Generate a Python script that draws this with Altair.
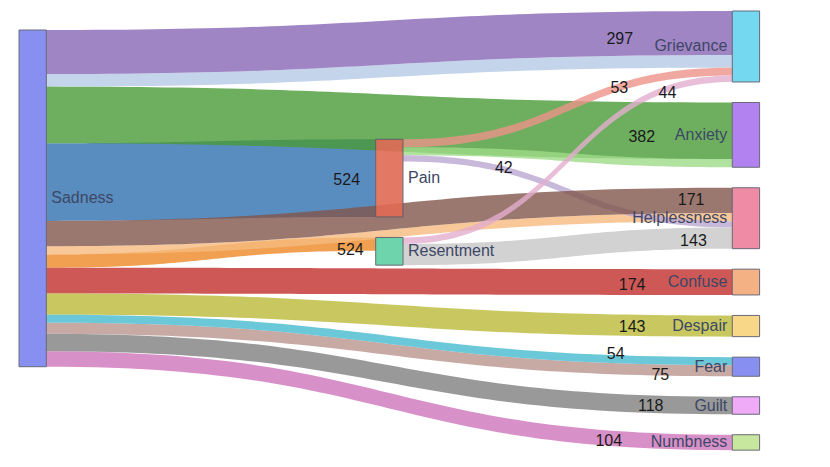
import altair as alt
import pandas as pd
import numpy as np

# ---------------- data ----------------
node_names = ["Sadness", "Pain", "Resentment", "Grievance", "Anxiety", "Helplessness",
              "Confuse", "Despair", "Fear", "Guilt", "Numbness"]
node_column = [0, 1, 1, 2, 2, 2, 2, 2, 2, 2, 2]
node_colors = ["#7b84f0", "#e06a55", "#5ed0a2", "#66d5ef", "#aa76ef", "#ee7f9b",
               "#f3aa77", "#f8d47c", "#7b84f0", "#eea3f7", "#c2e595"]

link_source = ["Sadness", "Sadness", "Sadness", "Sadness", "Sadness", "Sadness", "Sadness",
               "Sadness", "Sadness", "Sadness", "Sadness", "Sadness", "Sadness",
               "Pain", "Pain", "Pain", "Resentment", "Resentment"]
link_target = ["Grievance", "Grievance", "Anxiety", "Pain", "Helplessness", "Helplessness",
               "Resentment", "Confuse", "Despair", "Fear", "Fear", "Guilt", "Numbness",
               "Grievance", "Anxiety", "Helplessness", "Grievance", "Helplessness"]
link_value = [297, 85, 382, 524, 171, 55, 90, 174, 143, 54, 75, 118, 104, 53, 55, 42, 44, 143]
link_label = ["297", "", "382", "524", "171", "", "524", "174", "143", "54", "75", "118", "104",
              "53", "", "42", "44", "143"]
link_colors = ["#8866b5", "#b5c9e5", "#489b37", "#3170af", "#81564c", "#f6ba7e", "#ec8824",
               "#c02e2a", "#bbba38", "#45bace", "#ba958e", "#7f7f7f", "#ce74ba",
               "#ec9288", "#9fdb88", "#baa6d1", "#e2aece", "#c7c7c7"]

# ---------------- layout constants ----------------
W, H = 810, 450
PAGE = 8
COL_X = [19.0, 375.7, 732.3]
NODE_W = 27.3
COL_TOP = [30.0, 139.3, 11.0]
PAD = 20.5
KY = 0.1482
DRAW_ORDER = [3, 1, 6, 5, 2, 14, 7, 13, 0, 15, 4, 10, 12, 16, 11, 17, 8, 9]
LABEL_FRAC = [0.836, 0, 0.868, 0.912, 0.940, 0, 0.923, 0.854, 0.854, 0.830, 0.895, 0.881,
              0.820, 0.657, 0, 0.306, 0.803, 0.882]
LABEL_DY = [5, 0, 7, 1.5, -1, 0, 5.5, 3, 2, -5, 5.4, 1.7, 2.6, 1.3, 0, -1, 4.2, 2.7]

# ---------------- sankey layout ----------------
n_in = {n: 0 for n in node_names}
n_out = {n: 0 for n in node_names}
for s, t, v in zip(link_source, link_target, link_value):
    n_out[s] += v
    n_in[t] += v
node = {}
col_cursor = list(COL_TOP)
for name, col, colr in zip(node_names, node_column, node_colors):
    val = max(n_in[name], n_out[name])
    y0 = col_cursor[col]
    y1 = y0 + val * KY
    col_cursor[col] = y1 + PAD
    node[name] = dict(x0=COL_X[col], x1=COL_X[col] + NODE_W, y0=y0, y1=y1, col=col, color=colr)

idx = list(range(len(link_value)))
sy = {}
ty = {}
for name in node_names:
    outs = sorted([i for i in idx if link_source[i] == name], key=lambda i: (node[link_target[i]]["y0"], i))
    c = node[name]["y0"]
    for i in outs:
        sy[i] = c
        c += link_value[i] * KY
    ins = sorted([i for i in idx if link_target[i] == name], key=lambda i: (node[link_source[i]]["y0"], i))
    c = node[name]["y0"]
    for i in ins:
        ty[i] = c
        c += link_value[i] * KY

ts = np.linspace(0, 1, 61)
a = (1 - ts) ** 3 + 3 * (1 - ts) ** 2 * ts          # weight of source y
b = 3 * (1 - ts) * ts ** 2 + ts ** 3                # weight of target y
bx = 1.5 * ts * (1 - ts) + ts ** 3                  # x fraction (control points at mid x)
rows = []
lab_rows = []
for i in idx:
    xs = node[link_source[i]]["x1"]
    xt = node[link_target[i]]["x0"]
    w = link_value[i] * KY
    xx = xs + (xt - xs) * bx
    ytop = sy[i] * a + ty[i] * b
    for k in range(len(ts)):
        rows.append(dict(lid=f"L{i:02d}", k=k, x=float(xx[k]), y=float(ytop[k]),
                         y2=float(ytop[k] + w), color=link_colors[i]))
    if link_label[i]:
        f = LABEL_FRAC[i]
        lx = xs + (xt - xs) * f
        yc = ytop + w / 2
        ly = float(np.interp(lx, xx, yc)) + LABEL_DY[i]
        lab_rows.append(dict(x=float(lx), y=ly, text=link_label[i]))

links_df = pd.DataFrame(rows)
labels_df = pd.DataFrame(lab_rows)
nodes_df = pd.DataFrame([dict(name=n, **node[n]) for n in node_names])
nodes_df["ym"] = (nodes_df["y0"] + nodes_df["y1"]) / 2
nl_left = nodes_df[nodes_df["col"] < 2].copy()
nl_left["tx"] = nl_left["x1"] + 5
nl_right = nodes_df[nodes_df["col"] == 2].copy()
nl_right["tx"] = nl_right["x0"] - 5

xs_ = alt.Scale(domain=[PAGE, PAGE + W], nice=False, zero=False)
ys_ = alt.Scale(domain=[PAGE, PAGE + H], nice=False, zero=False, reverse=True)

link_layers = []
for i in DRAW_ORDER:
    d = links_df[links_df["lid"] == f"L{i:02d}"]
    link_layers.append(
        alt.Chart(d).mark_area(opacity=0.8, interpolate="linear", color=link_colors[i],
                               orient="vertical").encode(
            x=alt.X("x:Q", scale=xs_, axis=None),
            y=alt.Y("y:Q", scale=ys_, axis=None, stack=None),
            y2=alt.Y2("y2:Q"),
        )
    )

node_layer = alt.Chart(nodes_df).mark_rect(opacity=0.9, stroke="#5a5a6a", strokeWidth=1).encode(
    x=alt.X("x0:Q", scale=xs_, axis=None),
    x2="x1:Q",
    y=alt.Y("y0:Q", scale=ys_, axis=None),
    y2="y1:Q",
    fill=alt.Color("color:N", scale=None),
)

font = "Liberation Sans"
nlabel_left = alt.Chart(nl_left).mark_text(align="left", baseline="middle", font=font, fontSize=16,
                                           color="#3d4766").encode(
    x=alt.X("tx:Q", scale=xs_, axis=None), y=alt.Y("ym:Q", scale=ys_, axis=None), text="name:N")
nlabel_right = alt.Chart(nl_right).mark_text(align="right", baseline="middle", font=font, fontSize=16,
                                             color="#3d4766").encode(
    x=alt.X("tx:Q", scale=xs_, axis=None), y=alt.Y("ym:Q", scale=ys_, axis=None), text="name:N")
vlabels = alt.Chart(labels_df).mark_text(align="center", baseline="middle", font=font, fontSize=16,
                                         color="#1a1a1a").encode(
    x=alt.X("x:Q", scale=xs_, axis=None), y=alt.Y("y:Q", scale=ys_, axis=None), text="text:N")

chart = alt.layer(*link_layers, node_layer, nlabel_left, nlabel_right, vlabels).properties(
    width=W, height=H, padding=0, autosize="none", background="white"
).configure_view(stroke=None)

chart.save("out.html", embed_options={"renderer": "svg", "actions": False})
